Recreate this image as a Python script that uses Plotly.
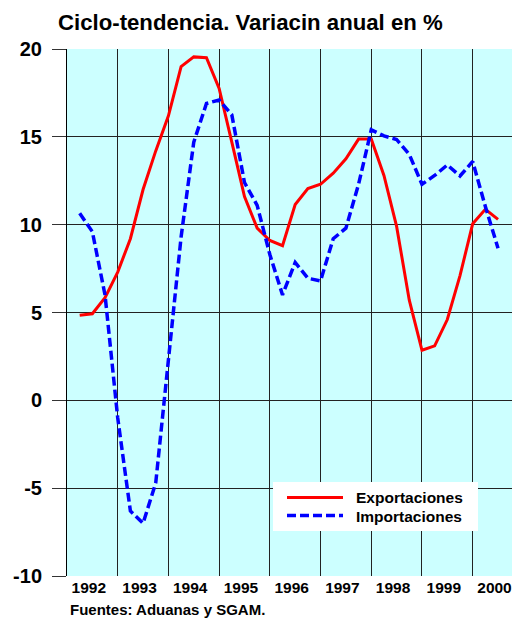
import plotly.graph_objects as go

# Quarterly observations, 1992 Q1 .. 2000 Q2 (plotted at year + q/4)
quarters = list(range(1, 35))
exportaciones = [4.85, 4.93, 5.85, 7.3, 9.2, 12.0, 14.2, 16.2, 19.0, 19.55,
                 19.5, 17.75, 14.7, 11.6, 9.8, 9.1, 8.8, 11.15, 12.05, 12.3,
                 12.93, 13.75, 14.87, 14.87, 12.8, 9.9, 5.7, 2.85, 3.1, 4.6,
                 7.1, 10.05, 10.88, 10.3]
importaciones = [10.65, 9.6, 6.0, -1.0, -6.3, -7.0, -4.7, 2.3, 9.3, 14.7,
                 16.9, 17.1, 16.25, 12.4, 11.1, 8.3, 6.0, 7.85, 6.95, 6.8,
                 9.2, 9.8, 12.3, 15.4, 15.05, 14.85, 14.0, 12.3, 12.8, 13.4,
                 12.77, 13.6, 11.03, 8.66]
years = [1992, 1993, 1994, 1995, 1996, 1997, 1998, 1999, 2000]
year_labels = ["1992", "1993", "1994", "1995", "1996", "1997", "1998", "1999", "2000"]
y_ticks = [-10, -5, 0, 5, 10, 15, 20]
y_tick_labels = ["-10", "-5", "0", "5", "10", "15", "20"]

x = [1992 + q / 4 for q in quarters]

FONT = "Liberation Sans, Arial, sans-serif"

fig = go.Figure()
fig.add_trace(go.Scatter(x=x, y=exportaciones, mode="lines", name="Exportaciones",
                         line=dict(color="#FF0000", width=3), showlegend=False))
fig.add_trace(go.Scatter(x=x, y=importaciones, mode="lines", name="Importaciones",
                         line=dict(color="#0000FF", width=3.5, dash="9px,4px"),
                         showlegend=False))

# page has an 8px body margin; figure drawn at (8,8)
OFF = 8
W, H = 512, 620
L, R, T, B = 67 - OFF, 0, 49 - OFF, 52
pw, ph = W - L - R, H - T - B

def px(xp):
    return (xp - OFF - L) / pw

def py(yp):
    return (H - B - (yp - OFF)) / ph

fig.update_layout(
    width=W, height=H,
    margin=dict(l=L, r=R, t=T, b=B, pad=0),
    paper_bgcolor="white",
    plot_bgcolor="#CCFFFF",
    title=dict(text="Ciclo-tendencia. Variacin anual en %",
               font=dict(family=FONT, size=22.2, color="black", weight="bold"),
               x=(58 - OFF) / W, xanchor="left", xref="container",
               y=1 - (22.5 - OFF) / H, yanchor="middle", yref="container"),
    xaxis=dict(range=[1992, 1992 + pw / 50.71],
               tickmode="array", tickvals=[yv + 0.43 for yv in years], ticktext=year_labels,
               showgrid=False, ticks="", zeroline=False, showline=False,
               ticklabelstandoff=0,
               tickfont=dict(family=FONT, size=15.5, color="black", weight="bold"),
               minor=dict(tickmode="array", tickvals=years[1:], showgrid=True,
                          gridcolor="#222222", gridwidth=1, ticks=""),
               fixedrange=True),
    yaxis=dict(range=[-10, 20], tickmode="array", tickvals=y_ticks, ticktext=y_tick_labels,
               showgrid=True, gridcolor="#222222", gridwidth=1,
               ticks="outside", ticklen=14, tickcolor="#333333", tickwidth=1,
               ticklabelstandoff=6,
               zeroline=False, showline=True, linecolor="black", linewidth=1,
               tickfont=dict(family=FONT, size=20, color="black", weight="bold"),
               fixedrange=True),
    shapes=[
        dict(type="rect", xref="paper", yref="paper",
             x0=px(273), x1=px(478), y0=py(531), y1=py(482),
             fillcolor="white", line=dict(width=0), layer="above"),
        dict(type="line", xref="paper", yref="paper",
             x0=px(287), x1=px(343), y0=py(497.5), y1=py(497.5),
             line=dict(color="#FF0000", width=3), layer="above"),
        dict(type="line", xref="paper", yref="paper",
             x0=px(287), x1=px(343), y0=py(515.5), y1=py(515.5),
             line=dict(color="#0000FF", width=3.5, dash="9px,4px"), layer="above"),
    ],
    annotations=[
        dict(text="Exportaciones", xref="paper", yref="paper", x=px(354), y=py(497.5),
             xanchor="left", yanchor="middle", showarrow=False,
             font=dict(family=FONT, size=15.5, color="black", weight="bold")),
        dict(text="Importaciones", xref="paper", yref="paper", x=px(354), y=py(516),
             xanchor="left", yanchor="middle", showarrow=False,
             font=dict(family=FONT, size=15.5, color="black", weight="bold")),
        dict(text="Fuentes: Aduanas y SGAM.", xref="paper", yref="paper", x=px(68), y=py(609),
             xanchor="left", yanchor="middle", showarrow=False,
             font=dict(family=FONT, size=15, color="black", weight="bold")),
    ],
)

fig.write_html("out.html")
